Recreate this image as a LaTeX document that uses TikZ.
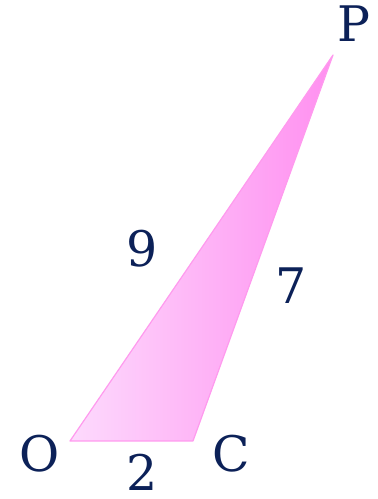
\documentclass[tikz,border=0pt]{standalone}
\usepackage{fontspec}
\setmainfont{DejaVu Serif}
\usetikzlibrary{shadings}
\definecolor{navy}{HTML}{0C2158}
\definecolor{pinkL}{HTML}{FDDAFD}
\definecolor{pinkR}{HTML}{FF8FF0}
\definecolor{pinkE}{HTML}{FF9AEE}
\tikzset{
  lbl/.style={text=navy, inner sep=0pt, font=\fontsize{49}{56}\selectfont},
}
\begin{document}
\begin{tikzpicture}[x=1pt,y=1pt]
\useasboundingbox (0,0) rectangle (378,499);
\coordinate (O) at (70,58);
\coordinate (C) at (193,58);
\coordinate (P) at (333,444);
\shade[left color=pinkL, right color=pinkR] (O) -- (C) -- (P) -- cycle;
\draw[pinkE, line width=1.2pt, line join=round] (O) -- (C) -- (P) -- cycle;
\node[lbl] (lP) at (354,475) {P};
\node[lbl] (lO) at (40,45.5) {O};
\node[lbl] (lC) at (231.5,45.5) {C};
\node[lbl] (l2) at (142.5,26.5) {2};
\node[lbl] (l9) at (142.5,250.5) {9};
\node[lbl] (l7) at (291.5,213.5) {7};
\end{tikzpicture}
\end{document}
